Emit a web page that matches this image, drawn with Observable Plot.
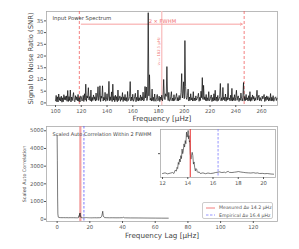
<!DOCTYPE html>
<html><head><meta charset="utf-8">
<script src="https://cdn.jsdelivr.net/npm/d3@7"></script>
<script src="https://cdn.jsdelivr.net/npm/@observablehq/plot@0.6"></script>
<style>
body{margin:0;background:#fff;}
#wrap{position:relative;width:299px;height:249px;overflow:hidden;font-family:"DejaVu Sans",sans-serif;background:#fff;}
#wrap > div{position:absolute;}
.leg{position:absolute;left:202px;top:201.5px;width:71px;height:17px;box-sizing:border-box;border:0.6px solid #ccc;border-radius:2px;background:#fff;font-size:4.7px;color:#555;}
.leg .row{position:absolute;left:2px;height:6px;display:flex;align-items:center;white-space:nowrap;}
</style></head>
<body><div id="wrap"></div>
<script>
// ---------- data ----------
const specStart = 100;   // μHz, first frequency bin
const specStep = 0.5;    // μHz per bin
const snr = [
  0.9,3.2,0.5,2.6,0.4,3.8,1.1,2.4,0.8,2.9, 0.3,2.2,0.5,3.5,1.4,2.8,1.2,3.0,0.7,5.3,
  0.6,2.7,1.0,5.5,0.4,2.5,1.0,2.8,4.4,0.9, 0.5,3.1,1.3,2.6,0.9,3.6,0.7,2.3,0.4,2.9,
  2.7,0.8,1.1,3.2,0.6,3.9,1.2,8.0,0.7,3.0, 2.1,6.5,1.3,2.7,0.9,5.5,0.6,2.4,1.0,3.4,
  1.5,2.6,0.8,4.2,1.1,2.5,6.9,1.0,2.2,7.3, 0.6,2.9,2.0,7.3,0.8,2.4,1.2,4.5,0.7,1.4,
  3.9,1.0,2.4,9.2,0.9,2.6,1.1,4.7,0.6,8.0, 1.2,2.8,0.5,3.3,1.1,2.7,0.5,5.5,1.0,1.8,
  3.0,0.7,2.5,1.3,4.4,0.6,2.6,1.1,3.6,0.9, 2.3,0.6,4.9,1.0,1.6,2.7,9.1,0.8,2.5,1.1,
  3.7,0.7,1.3,2.8,4.1,0.5,2.4,1.0,5.5,0.8, 2.2,1.1,3.4,0.9,2.6,1.2,4.6,0.8,1.4,7.0,
  2.1,6.8,1.0,2.5,38.5,3.0,12.0,1.2,2.0,0.8, 5.9,1.0,2.4,0.7,3.8,1.1,0.7,2.3,3.6,0.9,
  1.5,2.9,0.6,2.5,1.3,3.3,0.8,2.2,10.0,2.5, 1.4,3.9,2.8,15.5,3.0,1.0,4.5,0.8,1.0,2.6,
  4.8,0.9,2.1,0.8,3.5,1.0,1.6,2.7,4.0,0.9, 2.3,0.9,3.2,1.2,2.0,4.5,12.5,2.1,4.0,9.0,
  1.8,26.6,7.0,2.2,1.5,3.1,5.9,0.8,2.5,1.0, 3.9,1.3,2.2,0.8,4.8,0.9,2.1,0.9,3.0,1.2,
  1.8,2.6,4.1,0.7,2.4,1.0,5.0,2.2,10.8,1.5, 7.5,1.4,2.6,1.0,3.6,0.8,2.2,1.0,4.8,0.9,
  1.2,2.7,3.4,0.6,2.3,0.8,3.9,1.1,5.4,1.0, 2.5,0.7,3.2,1.0,1.7,2.6,8.3,0.9,2.2,1.0,
  6.6,1.4,2.5,0.9,3.8,0.7,2.4,1.2,8.3,1.5, 2.1,0.9,3.3,1.0,6.2,0.8,2.3,1.1,3.5,0.9,
  2.4,5.4,1.1,2.6,3.0,0.6,2.0,1.1,4.2,1.9, 0.8,2.4,8.7,0.9,2.7,1.0,3.6,1.3,2.2,0.8,
  3.1,1.0,4.8,0.7,2.4,1.0,3.4,1.6,2.8,0.8, 2.2,1.1,2.7,5.4,1.2,2.5,3.3,0.9,2.3,1.0,
  0.9,2.9,1.7,2.4,3.6,0.6,2.5,1.0,3.0,1.4, 2.7,0.8,2.2,1.0,4.0,0.8,2.4,1.0,3.1,0.7,
  1.5,2.3,2.6,1.0,2.0];
const fwhmBounds = [118.5, 246.5];
const numax = 182.5;
const arrowFrom = 120, arrowTo = 245, arrowSNR = 33.6;
const specTicksX = [100,120,140,160,180,200,220,240,260];
const specTicksY = [0,5,10,15,20,25,30,35];

const acfLagOuter = [0,0.15,0.3,0.45,0.7,1,2,3,4,5,6,7,8,9,10,11,11.5,
  21.5,22,23,24,25,26,26.8,27.3,27.6,27.9,28.2,28.6,29,30,32,34,36,38,40,40.5,41,42,45,50,55,60,64,68];
const acfValOuter = [4750,3300,1200,300,120,95,90,85,88,84,86,82,85,83,84,82,80,
  78,80,82,79,81,84,100,170,300,450,210,120,90,85,80,82,78,80,85,110,80,76,72,70,66,62,60,58];
const acfLagInner = [12.0,12.2,12.4,12.6,12.8,12.9,13.0,13.1,13.15,13.2,13.25,13.3,13.35,13.4,13.45,13.5,
  13.55,13.6,13.65,13.7,13.75,13.8,13.85,13.9,13.95,14.0,14.03,14.06,14.1,14.13,14.16,14.2,14.25,14.3,
  14.35,14.4,14.45,14.5,14.55,14.6,14.65,14.7,14.75,14.8,14.9,15.0,15.2,15.4,15.6,15.8,16.0,16.2,16.4,
  16.5,16.7,16.9,17.0,17.1,17.2,17.3,17.5,17.7,17.9,18.0,18.2,18.4,18.6,18.8,19.0,19.2,19.4,19.5,19.7,
  19.9,20.1,20.3,20.6,20.8];
const acfValInner = [80,84,78,82,86,80,100,95,117,110,147,135,167,150,188,170,
  228,200,218,259,240,279,260,330,300,320,340,290,309,270,279,198,167,190,
  208,188,137,150,115,96,110,106,92,86,90,80,84,79,83,80,82,86,88,
  90,86,88,85,90,93,87,86,88,90,92,89,87,85,84,83,85,82,84,80,
  81,79,80,77,76];
const dnuMeasured = 14.2, dnuEmpirical = 16.4;
const acfTicksX = [0,20,40,60,80,100,120];
const acfTicksY = [0,1000,2000,3000,4000,5000];
const insetTicksX = [12,14,16,18,20];

// ---------- build ----------
(function(){
const spectrum = snr.map((v,i)=>({f: specStart + i*specStep, snr: v}));
const acfOuter = acfLagOuter.map((l,i)=>({lag:l, v:acfValOuter[i]}));
const acfInner = acfLagInner.map((l,i)=>({lag:l, v:acfValInner[i]}));
const acfAll = acfOuter.concat(acfInner).sort((a,b)=>a.lag-b.lag);

const wrap = document.getElementById("wrap");
const tick = "#555", frameC = "#aaa";
const fmt = d3.format("d");
function place(el, left, topPx){ const d=document.createElement("div"); d.style.left=left+"px"; d.style.top=topPx+"px"; d.appendChild(el); wrap.appendChild(d); return d; }

// Bottom panel: autocorrelation
const acfPlot = Plot.plot({
  width: 299, height: 129, marginLeft: 46, marginRight: 22, marginTop: 6, marginBottom: 28,
  style: {fontSize: "5.3px", color: tick, background: "transparent", fontFamily: "DejaVu Sans"},
  x: {domain: [-6.5, 134.8]}, y: {domain: [-130, 5243]},
  marks: [
    Plot.frame({stroke: frameC, strokeWidth: 0.8}),
    Plot.axisX({ticks: acfTicksX, tickFormat: fmt, tickSize: 2, tickPadding: 1.5, label: null, stroke: tick}),
    Plot.axisY({ticks: acfTicksY, tickFormat: fmt, tickSize: 2, tickPadding: 1, label: null, stroke: tick}),
    Plot.ruleX([dnuMeasured], {stroke: "#f08c8c", strokeOpacity: 0.8, strokeWidth: 2.2}),
    Plot.ruleX([dnuEmpirical], {stroke: "#5a5aff", strokeWidth: 0.8, strokeDasharray: "2.5,1.5"}),
    Plot.line(acfAll, {x: "lag", y: "v", stroke: "#222", strokeWidth: 0.6}),
    Plot.text(["Scaled Auto Correlation Within 2 FWHM"], {frameAnchor: "top-left", dx: 6, dy: 8, textAnchor: "start", lineAnchor: "middle", fill: "#444", fontSize: 5}),
    Plot.text(["Frequency Lag [μHz]"], {frameAnchor: "bottom", dy: 14, lineAnchor: "middle", textAnchor: "middle", fill: "#444", fontSize: 7.2}),
    Plot.text(["Scaled Auto Correlation"], {frameAnchor: "left", dx: -22, rotate: -90, textAnchor: "middle", lineAnchor: "middle", fill: "#555", fontSize: 4.8})
  ]
});
place(acfPlot, 0, 120);

// Top panel: power spectrum
const specPlot = Plot.plot({
  width: 299, height: 125, marginLeft: 46, marginRight: 22, marginTop: 11, marginBottom: 20,
  style: {fontSize: "5.3px", color: tick, background: "transparent", fontFamily: "DejaVu Sans"},
  x: {domain: [93, 272.4]}, y: {domain: [-1.1, 39]},
  marks: [
    Plot.frame({stroke: frameC, strokeWidth: 0.8}),
    Plot.axisX({ticks: specTicksX, tickFormat: fmt, tickSize: 2, tickPadding: 1.5, label: null, stroke: tick}),
    Plot.axisY({ticks: specTicksY, tickFormat: fmt, tickSize: 2, tickPadding: 1, label: null, stroke: tick}),
    Plot.ruleX([numax], {stroke: "#f9c4c4", strokeWidth: 1.4}),
    Plot.ruleX(fwhmBounds, {stroke: "#f05a5a", strokeOpacity: 0.85, strokeWidth: 0.9, strokeDasharray: "3,2"}),
    Plot.arrow([{x1: arrowFrom, x2: arrowTo, y: arrowSNR}], {x1: "x1", x2: "x2", y1: "y", y2: "y", stroke: "#f7a0a0", strokeWidth: 1, headLength: 3, bend: 0}),
    Plot.line(spectrum, {x: "f", y: "snr", stroke: "#111", strokeWidth: 0.75}),
    Plot.text(["2 × FWHM"], {x: [arrowFrom + 63], y: [arrowSNR], dy: -2.8, fill: "#f07070", fontSize: 5.2}),
    Plot.text(["νₘₐₓ 182.5 μHz"], {x: [numax - 2], y: [22], rotate: -90, fill: "#f08080", fontSize: 3.8}),
    Plot.text(["Input Power Spectrum"], {frameAnchor: "top-left", dx: 6, dy: 6.5, textAnchor: "start", lineAnchor: "middle", fill: "#444", fontSize: 5.3}),
    Plot.text(["Frequency [μHz]"], {frameAnchor: "bottom", dy: 13.5, lineAnchor: "middle", textAnchor: "middle", fill: "#444", fontSize: 7.2}),
    Plot.text(["Signal to Noise Ratio (SNR)"], {frameAnchor: "left", dx: -16, rotate: -90, textAnchor: "middle", lineAnchor: "middle", fill: "#444", fontSize: 6.8})
  ]
});
place(specPlot, 0, 0);

// Inset zoom of the autocorrelation
const insetPlot = Plot.plot({
  width: 119, height: 60, marginLeft: 2, marginRight: 2, marginTop: 2, marginBottom: 10,
  style: {fontSize: "5.3px", color: tick, background: "transparent", fontFamily: "DejaVu Sans"},
  x: {domain: [11.84, 20.95]}, y: {domain: [56, 346]},
  marks: [
    Plot.frame({fill: "white", stroke: frameC, strokeWidth: 0.8}),
    Plot.axisX({ticks: insetTicksX, tickFormat: fmt, tickSize: 2, tickPadding: 1.5, label: null, stroke: tick}),
    Plot.ruleX([dnuEmpirical], {stroke: "#7a7aff", strokeWidth: 0.8, strokeDasharray: "2.5,1.5"}),
    Plot.line(acfInner, {x: "lag", y: "v", stroke: "#222", strokeWidth: 0.6}),
    Plot.ruleX([dnuMeasured], {stroke: "#e83030", strokeOpacity: 0.85, strokeWidth: 1.2})
  ]
});
place(insetPlot, 158, 127);

// Legend
const leg = document.createElement("div");
leg.className = "leg";
leg.innerHTML =
  `<div class="row" style="top:2px"><svg width="11" height="4"><line x1="1" x2="10" y1="2" y2="2" stroke="#f07070" stroke-width="0.9"/></svg><span style="margin-left:3px">Measured Δν 14.2 μHz</span></div>` +
  `<div class="row" style="top:9.5px"><svg width="11" height="4"><line x1="1" x2="10" y1="2" y2="2" stroke="#7a7aff" stroke-width="0.8" stroke-dasharray="2.5,1.5"/></svg><span style="margin-left:3px">Empirical Δν 16.4 μHz</span></div>`;
wrap.appendChild(leg);
})();
</script></body></html>
